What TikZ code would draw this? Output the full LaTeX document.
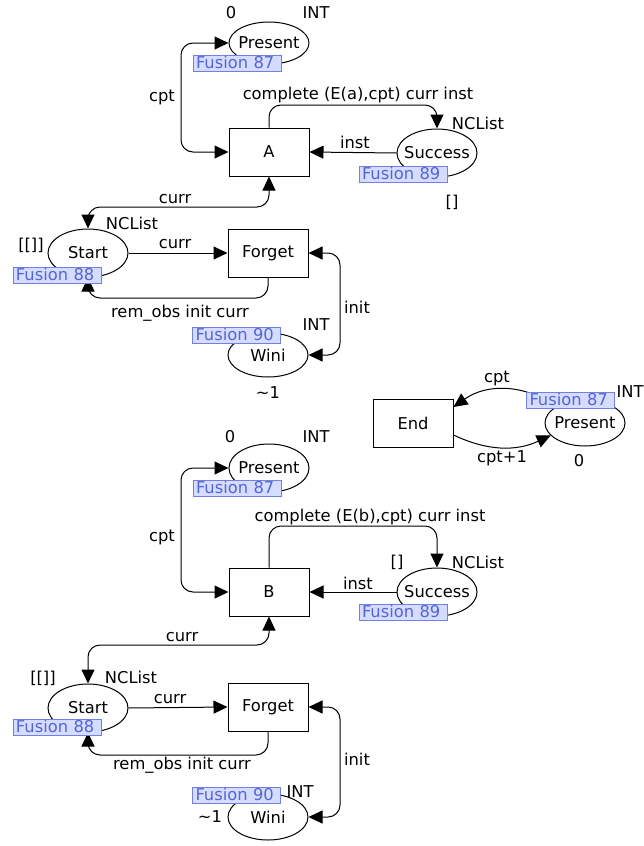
\documentclass[tikz,border=0pt]{standalone}
\usepackage{fontspec}
\setmainfont{DejaVu Sans}
\usetikzlibrary{shapes.geometric, arrows.meta, calc}
\definecolor{fusfill}{RGB}{214,220,255}
\definecolor{fusline}{RGB}{112,128,228}
\definecolor{fustext}{RGB}{84,102,212}
\newcommand{\pname}[1]{\makebox[0pt]{#1}}

\begin{document}
\begin{tikzpicture}[
    x=1pt, y=-1pt,
    font=\fontsize{16.3}{19}\selectfont,
    place/.style={ellipse, draw, fill=white, line width=1pt, minimum width=80pt, minimum height=46pt, inner sep=0pt},
    trans/.style={rectangle, draw, fill=white, line width=1pt, minimum width=80pt, minimum height=48pt},
    fusion/.style={draw=fusline, fill=fusfill, text=fustext, line width=0.8pt, text width=82pt, align=left, inner xsep=3pt, inner ysep=2pt, text height=11pt, text depth=1pt},
    lbl/.style={inner sep=0pt},
    arrow/.style={line width=1pt, -{Triangle[length=14pt,width=13pt]}, rounded corners=12pt},
    biarrow/.style={line width=1pt, {Triangle[length=14pt,width=13pt]}-{Triangle[length=14pt,width=13pt]}, rounded corners=12pt}
]
\useasboundingbox (0,0) rectangle (644,846);

% upper page
\node[place, minimum height=42pt] (present1) at (269,43) {\pname{Present}};
\node[trans] (a) at (269,152) {A};
\node[place, minimum height=48pt] (success1) at (437,153) {\pname{Success}};
\node[place, minimum height=48pt] (start1) at (88,253) {\pname{Start}};
\node[trans] (forget1) at (268,253) {Forget};
\node[place, minimum height=44pt] (wini1) at (268,355) {\pname{Wini}};

% end transition
\node[trans] (endt) at (413,423) {End};
\node[place] (present3) at (585,423) {\pname{Present}};

% lower page
\node[place, minimum height=48pt] (present2) at (269,468) {\pname{Present}};
\node[trans] (b) at (269,592) {B};
\node[place, minimum height=48pt] (success2) at (437,592) {\pname{Success}};
\node[place, minimum height=48pt] (start2) at (88,708) {\pname{Start}};
\node[trans] (forget2) at (268,707) {Forget};
\node[place] (wini2) at (268,817) {\pname{Wini}};

% arcs, upper page
\draw[biarrow] (a.west) -- (181,152) -- (181,43) -- (present1.west);
\draw[arrow] (a.north) -- (a.north |- 0,105) -- (success1.north |- 0,105) -- (success1.north);
\draw[arrow] (success1.west) -- (a.east);
\draw[biarrow] (a.south) -- (a.south |- 0,207) -- (start1.north |- 0,207) -- (start1.north);
\draw[arrow] (start1.east) -- (forget1.west);
\draw[arrow] (forget1.south) -- (forget1.south |- 0,298) -- (start1.south |- 0,298) -- (start1.south);
\draw[biarrow] (forget1.east) -- (340,253) -- (340,355) -- (wini1.east);

% arcs, end transition
\draw[arrow] (present3.north west) to[bend right=35] ([yshift=16pt]endt.east);
\draw[arrow] ([yshift=-12pt]endt.east) to[bend right=25] (present3.200);

% arcs, lower page
\draw[biarrow] (b.west) -- (181,592) -- (181,468) -- (present2.west);
\draw[arrow] (b.north) -- (b.north |- 0,526) -- (success2.north |- 0,526) -- (success2.north);
\draw[arrow] (success2.west) -- (b.east);
\draw[biarrow] (b.south) -- (b.south |- 0,645) -- (start2.north |- 0,645) -- (start2.north);
\draw[arrow] (start2.east) -- (forget2.west);
\draw[arrow] (forget2.south) -- (forget2.south |- 0,755) -- (start2.south |- 0,755) -- (start2.south);
\draw[biarrow] (forget2.east) -- (340,707) -- (340,817) -- (wini2.east);

% fusion tags
\node[fusion] (fus87a) at (237,63.5) {Fusion 87};
\node[fusion] (fus89a) at (403,174) {Fusion 89};
\node[fusion] (fus88a) at (57,275) {Fusion 88};
\node[fusion] (fus90a) at (236.5,335) {Fusion 90};
\node[fusion] (fus87c) at (570.5,400.5) {Fusion 87};
\node[fusion] (fus87b) at (237,488.5) {Fusion 87};
\node[fusion] (fus89b) at (403,612) {Fusion 89};
\node[fusion] (fus88b) at (57,727) {Fusion 88};
\node[fusion] (fus90b) at (236.5,795.5) {Fusion 90};

% inscriptions, upper page
\node[lbl] (init1) at (231,13) {0};
\node[lbl] (type1) at (316,13) {INT};
\node[lbl] (lcpt1) at (162,97) {cpt};
\node[lbl] (lcomp1) at (358,95) {complete (E(a),cpt) curr inst};
\node[lbl] (linst1) at (355,142) {inst};
\node[lbl] (type2) at (478,123) {NCList};
\node[lbl] (init2) at (452,202) {[]};
\node[lbl] (lcurr1) at (175,199) {curr};
\node[lbl] (type3) at (132,223) {NCList};
\node[lbl] (init3) at (31,245) {[[]]};
\node[lbl] (lcurr2) at (175,244) {curr};
\node[lbl] (lrem1) at (180,313) {rem\_obs init curr};
\node[lbl] (linit1) at (357,307) {init};
\node[lbl] (type4) at (316,325) {INT};
\node[lbl] (init4) at (268,393) {\char"007E 1};

% inscriptions, end transition
\node[lbl] (lcpt3) at (497,378) {cpt};
\node[lbl] (lcptp) at (502,458) {cpt+1};
\node[lbl] (type5) at (630,392) {INT};
\node[lbl] (init5) at (579,461) {0};

% inscriptions, lower page
\node[lbl] (init6) at (230,437) {0};
\node[lbl] (type6) at (316,437) {INT};
\node[lbl] (lcpt2) at (162,537) {cpt};
\node[lbl] (lcomp2) at (370,517) {complete (E(b),cpt) curr inst};
\node[lbl] (linst2) at (358,583) {inst};
\node[lbl] (type7) at (478,562) {NCList};
\node[lbl] (init7) at (397,562) {[]};
\node[lbl] (lcurr3) at (182,637) {curr};
\node[lbl] (type8) at (131,677) {NCList};
\node[lbl] (init8) at (43,678) {[[]]};
\node[lbl] (lcurr4) at (170,699) {curr};
\node[lbl] (lrem2) at (182,765) {rem\_obs init curr};
\node[lbl] (linit2) at (357,759) {init};
\node[lbl] (type9) at (300,792) {INT};
\node[lbl] (init9) at (210,817) {\char"007E 1};

\end{tikzpicture}
\end{document}
